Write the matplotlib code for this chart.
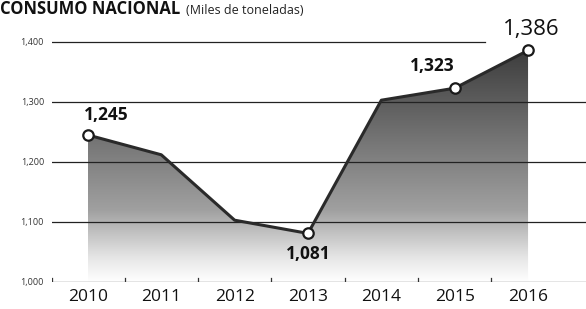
import numpy as np
import matplotlib
matplotlib.use("Agg")
from matplotlib import pyplot as plt
from matplotlib.colors import LinearSegmentedColormap
from matplotlib.patches import Polygon

years = ["2010", "2011", "2012", "2013", "2014", "2015", "2016"]
consumo = [1245, 1212, 1103, 1081, 1303, 1323, 1386]
marked = [0, 3, 5, 6]
labels = {0: "1,245", 3: "1,081", 5: "1,323", 6: "1,386"}
yticks = [1000, 1100, 1200, 1300, 1400]
ytick_labels = ["1,000", "1,100", "1,200", "1,300", "1,400"]

plt.rcParams["font.family"] = ["Open Sans", "DejaVu Sans"]

fig = plt.figure(figsize=(5.86, 3.09), dpi=100)
ax = fig.add_axes([52 / 586, 1 - 282 / 309, 1 - 52 / 586, 282 / 309])
ax.set_xlim(-0.49, 6.79)
ax.set_ylim(1000, 1470)
ax.axis("off")

x = np.arange(len(years))

# gradient fill under the line
cmap = LinearSegmentedColormap.from_list(
    "g", [(0.0, "#ffffff"), (0.1, "#e6e6e6"), (0.3, "#a0a0a0"), (1.0, "#383838")])
grad = np.linspace(0, 1, 256).reshape(-1, 1)
im = ax.imshow(grad, cmap=cmap, origin="lower", aspect="auto",
               extent=[x[0], x[-1], 1000, 1400], zorder=1)
poly = Polygon(np.column_stack([np.r_[x[0], x, x[-1]], np.r_[1000, consumo, 1000]]),
               closed=True, transform=ax.transData, facecolor="none", edgecolor="none")
ax.add_patch(poly)
im.set_clip_path(poly)

# gridlines
for v in yticks[1:]:
    xmax = 0.81 if v == 1400 else 1.0
    ax.axhline(v, xmin=0, xmax=xmax, color="#222222", lw=0.9, zorder=2)
ax.axhline(1000, color="#333333", lw=0.9, zorder=2)
for b in [-0.49] + list(np.arange(0.5, 6.5, 1.0)):
    ax.plot([b, b], [1000, 1007], color="#333333", lw=0.9, zorder=2)

for v, t in zip(yticks, ytick_labels):
    ax.text(-0.6, v, t, ha="right", va="center", fontsize=6.5, color="#333333")

for i, y in enumerate(years):
    ax.text(x[i], 988, y, ha="center", va="top", fontsize=12.5, color="#111111")

# line and markers
ax.plot(x, consumo, color="#2a2a2a", lw=2.2, zorder=3, solid_joinstyle="round")
ax.plot(x[marked], np.array(consumo)[marked], "o", ms=7.5, mfc="white",
        mec="#1a1a1a", mew=1.6, zorder=4)

ax.text(x[0] + 0.25, consumo[0] + 18, labels[0], ha="center", va="bottom",
        fontsize=12.5, fontweight="bold", color="#111111")
ax.text(x[3], consumo[3] - 20, labels[3], ha="center", va="top",
        fontsize=12.5, fontweight="bold", color="#111111")
ax.text(x[5] - 0.3, consumo[5] + 22, labels[5], ha="center", va="bottom",
        fontsize=12.5, fontweight="bold", color="#111111")
ax.text(x[6] + 0.05, consumo[6] + 18, labels[6], ha="center", va="bottom",
        fontsize=16, color="#111111")

title = fig.text(0.0, 1 - 14 / 309, "CONSUMO NACIONAL", ha="left", va="baseline",
                 fontsize=12, fontweight="bold", color="#111111")
fig.canvas.draw()
bb = title.get_window_extent(fig.canvas.get_renderer())
fig.text(bb.x1 / fig.bbox.width + 6 / 586, 1 - 14 / 309, "(Miles de toneladas)",
         ha="left", va="baseline", fontsize=9, color="#222222")

fig.savefig("out.png", dpi=100)
